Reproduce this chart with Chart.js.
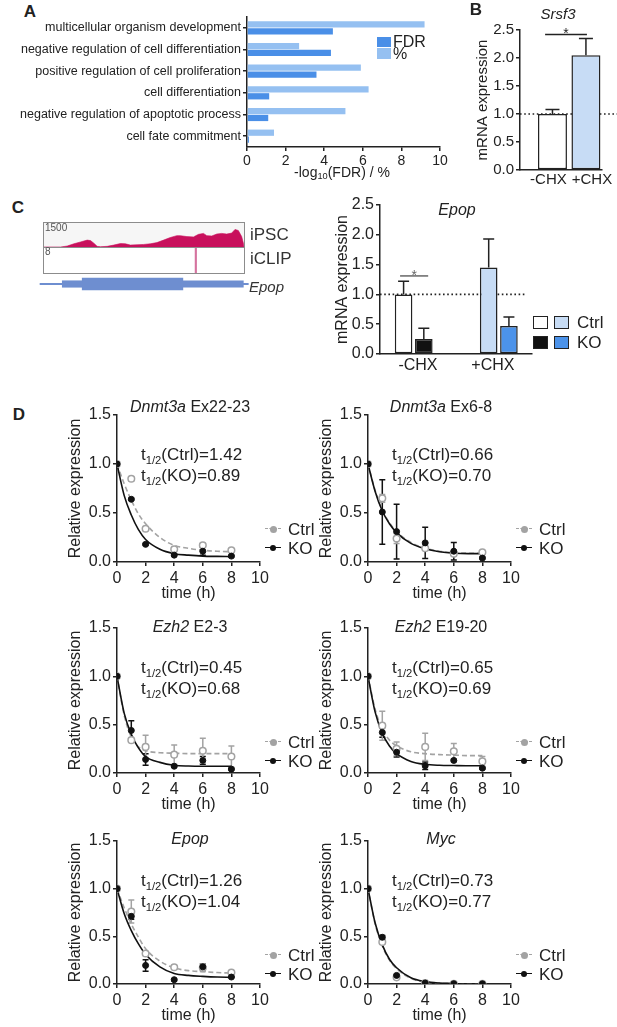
<!DOCTYPE html>
<html>
<head>
<meta charset="utf-8">
<title>Epop figure</title>
<script src="https://cdn.jsdelivr.net/npm/chart.js@4.4.1/dist/chart.umd.min.js"></script>
<style>
  html, body { margin: 0; padding: 0; background: #fff; }
  body { position: relative; width: 617px; height: 1027px; overflow: hidden; font-family: "Liberation Sans", Arial, sans-serif; color: #222; }
  canvas { position: absolute; }
  .lbl { position: absolute; white-space: nowrap; line-height: 1; }
  .sub { font-size: 0.66em; vertical-align: -0.3em; }
  .box { position: absolute; box-sizing: border-box; }
</style>
</head>
<body>
<script>
Chart.defaults.font.family = '"Liberation Sans", Arial, sans-serif';
Chart.defaults.color = '#222';

// A: GO terms
const goTerms = ['multicellular organism development', 'negative regulation of cell differentiation',
  'positive regulation of cell proliferation', 'cell differentiation',
  'negative regulation of apoptotic process', 'cell fate commitment'];
const goPercent = [9.2, 2.7, 5.9, 6.3, 5.1, 1.4];
const goFdr = [4.45, 4.35, 3.6, 1.15, 1.1, 0.1];

// B: Srsf3 with cycloheximide
const chxGroups = ['-CHX', '+CHX'];
const srsf3Mean = [1.0, 2.05];
const srsf3Sem = [0.08, 0.30];

// C: Epop, Ctrl vs KO
const epopCtrl = [1.0, 1.45];
const epopCtrlSem = [0.22, 0.48];
const epopKo = [0.25, 0.47];
const epopKoSem = [0.18, 0.15];

// C: browser track (position along the locus, coverage)
const trackPos = [0, 50, 70, 90, 110, 130, 140, 150, 160, 170, 190, 210, 230, 245, 260, 280, 300, 320, 340,
  360, 380, 400, 410, 430, 450, 465, 480, 490, 505, 520, 535, 550, 565, 575, 585, 595, 600, 602];
const trackCov = [0, 0, 60, 200, 315, 430, 400, 240, 40, 20, 40, 120, 215, 200, 120, 140, 160, 200, 275,
  430, 590, 710, 710, 650, 630, 790, 850, 710, 690, 810, 850, 810, 870, 1100, 1030, 650, 250, 0];
const iclipPos = [457];
const iclipCount = [8];
const geneSpan = [-12, 615];
const utr5 = [55, 115];
const cds = [115, 418];
const utr3 = [418, 600];

// D: decay after transcription stop
const decayTimes = [0, 1, 2, 4, 6, 8];
const fitTimes = [0, 0.5, 1, 1.5, 2, 3, 4, 5, 6, 7, 8];
const geneNames = ['Dnmt3a', 'Dnmt3a', 'Ezh2', 'Ezh2', 'Epop', 'Myc'];
const amplicons = ['Ex22-23', 'Ex6-8', 'E2-3', 'E19-20', '', ''];
const halfLifeCtrl = ['1.42', '0.66', '0.45', '0.65', '1.26', '0.73'];
const halfLifeKo = ['0.89', '0.70', '0.68', '0.69', '1.04', '0.77'];
const ctrlMean = [
  [1, 0.85, 0.34, 0.13, 0.17, 0.12],
  [1, 0.65, 0.24, 0.14, 0.085, 0.10],
  [1, 0.34, 0.27, 0.19, 0.23, 0.17],
  [1, 0.49, 0.25, 0.27, 0.225, 0.12],
  [1, 0.76, 0.32, 0.175, 0.17, 0.12],
  [1, 0.44, 0.07, 0.01, 0.003, 0.002]
];
const ctrlSem = [
  [0, 0.02, 0.01, 0.01, 0.02, 0.01],
  [0, 0.04, 0.05, 0.02, 0.02, 0.01],
  [0, 0.02, 0.12, 0.10, 0.13, 0.11],
  [0, 0.15, 0.07, 0.14, 0.08, 0.05],
  [0, 0.12, 0.02, 0.02, 0.04, 0.01],
  [0, 0.02, 0.02, 0.005, 0, 0]
];
const koMean = [
  [1, 0.64, 0.18, 0.07, 0.11, 0.06],
  [1, 0.51, 0.31, 0.195, 0.11, 0.04],
  [1, 0.44, 0.14, 0.07, 0.13, 0.04],
  [1, 0.42, 0.215, 0.075, 0.13, 0.05],
  [1, 0.71, 0.195, 0.045, 0.18, 0.073],
  [1, 0.49, 0.09, 0.01, 0.003, 0.002]
];
const koSem = [
  [0, 0.01, 0.01, 0.01, 0.04, 0.01],
  [0, 0.33, 0.28, 0.16, 0.09, 0.01],
  [0, 0.10, 0.06, 0.01, 0.04, 0.01],
  [0, 0.05, 0.05, 0.04, 0.01, 0.01],
  [0, 0.03, 0.06, 0.01, 0.03, 0.005],
  [0, 0.02, 0.01, 0, 0, 0]
];
const ctrlFit = [
  [1, 0.80, 0.63, 0.49, 0.39, 0.25, 0.17, 0.14, 0.12, 0.11, 0.105],
  [1, 0.73, 0.53, 0.40, 0.31, 0.20, 0.14, 0.11, 0.095, 0.09, 0.09],
  [1, 0.60, 0.37, 0.27, 0.23, 0.21, 0.205, 0.2, 0.2, 0.2, 0.2],
  [1, 0.66, 0.45, 0.34, 0.28, 0.22, 0.20, 0.19, 0.185, 0.18, 0.18],
  [1, 0.80, 0.63, 0.49, 0.37, 0.24, 0.17, 0.14, 0.13, 0.12, 0.115],
  [1, 0.63, 0.40, 0.25, 0.16, 0.06, 0.02, 0.01, 0.005, 0, 0]
];
const koFit = [
  [1, 0.68, 0.48, 0.33, 0.23, 0.13, 0.085, 0.07, 0.06, 0.057, 0.055],
  [1, 0.72, 0.52, 0.39, 0.30, 0.19, 0.135, 0.105, 0.09, 0.085, 0.085],
  [1, 0.62, 0.40, 0.26, 0.17, 0.11, 0.08, 0.072, 0.07, 0.07, 0.07],
  [1, 0.63, 0.41, 0.28, 0.20, 0.12, 0.09, 0.08, 0.077, 0.075, 0.075],
  [1, 0.74, 0.56, 0.42, 0.31, 0.18, 0.11, 0.09, 0.08, 0.073, 0.07],
  [1, 0.64, 0.41, 0.26, 0.17, 0.065, 0.025, 0.01, 0.005, 0, 0]
];

const INK = '#222';
const FDR_BLUE = '#4a8fe7';
const PCT_BLUE = '#95c0f1';
const PALE_BLUE = '#c7dcf5';
const KO_BLUE = '#4c93ea';
const GREY = '#a3a3a3';
const TRACK = '#c8105c';
const GENE = '#6e8ed0';

function mount(plot, m) {
  const cv = document.createElement('canvas');
  const w = plot.r - plot.l + m.l + m.r;
  const h = plot.b - plot.t + m.t + m.b;
  cv.width = w;
  cv.height = h;
  cv.style.left = (plot.l - m.l) + 'px';
  cv.style.top = (plot.t - m.t) + 'px';
  cv.style.width = w + 'px';
  cv.style.height = h + 'px';
  document.body.appendChild(cv);
  return cv;
}

function label(html, x, y, size, align, extra) {
  const d = document.createElement('div');
  d.className = 'lbl';
  d.innerHTML = html;
  d.style.left = x + 'px';
  d.style.top = y + 'px';
  d.style.fontSize = size + 'px';
  const ax = align === 'left' ? '0' : (align === 'right' ? '-100%' : '-50%');
  d.style.transform = `translate(${ax}, -50%)`;
  if (extra) d.style.cssText += extra;
  document.body.appendChild(d);
}

function box(x, y, w, h, css) {
  const d = document.createElement('div');
  d.className = 'box';
  d.style.cssText += `left:${x}px;top:${y}px;width:${w}px;height:${h}px;${css}`;
  document.body.appendChild(d);
}

function baseOptions(m) {
  return {
    responsive: false, animation: false, devicePixelRatio: 1, events: [],
    layout: { padding: { top: m.t, right: m.r, bottom: 0, left: 0 } },
    plugins: { legend: { display: false }, tooltip: { enabled: false } }
  };
}

function axis(o) {
  const ticks = { color: INK, font: { size: o.size }, padding: o.pad ?? 2, autoSkip: false, maxRotation: 0 };
  if (o.step) ticks.stepSize = o.step;
  if (o.fmt) ticks.callback = o.fmt;
  const a = {
    type: o.type || 'linear',
    offset: o.offset || false,
    border: { color: INK, width: 1.5 },
    grid: { display: true, drawOnChartArea: false, drawTicks: o.marks !== false, color: INK, lineWidth: 1.5, tickLength: 4, offset: false },
    ticks,
    title: o.title ? { display: true, text: o.title, color: INK, font: { size: o.titleSize || o.size, weight: 'normal' }, padding: 0 } : { display: false },
    afterFit: o.fit
  };
  if (o.min !== undefined) { a.min = o.min; a.max = o.max; }
  if (o.ticksAt) a.afterBuildTicks = s => { s.ticks = o.ticksAt.map(v => ({ value: v })); };
  return a;
}

// error bars drawn from each dataset's own errors through the y scale
function drawErrorBars(chart) {
  const ctx = chart.ctx, y = chart.scales.y;
  chart.data.datasets.forEach((ds, di) => {
    if (!ds.errors) return;
    chart.getDatasetMeta(di).data.forEach((el, i) => {
      const err = ds.errors[i];
      if (!err) return;
      const raw = ds.data[i];
      const v = typeof raw === 'object' ? raw.y : raw;
      const top = y.getPixelForValue(v + err);
      const bottom = y.getPixelForValue(ds.errorUp ? v : Math.max(0, v - err));
      const half = (ds.capWidth || 6) / 2;
      ctx.save();
      ctx.strokeStyle = ds.errorColor || INK;
      ctx.lineWidth = 1.5;
      ctx.beginPath();
      ctx.moveTo(el.x, bottom); ctx.lineTo(el.x, top);
      ctx.moveTo(el.x - half, top); ctx.lineTo(el.x + half, top);
      if (!ds.errorUp) { ctx.moveTo(el.x - half, bottom); ctx.lineTo(el.x + half, bottom); }
      ctx.stroke();
      ctx.restore();
    });
  });
}
const errorBars = {
  id: 'errorBars',
  beforeDatasetsDraw(chart, args, opts) { if (opts.under) drawErrorBars(chart); },
  afterDatasetsDraw(chart, args, opts) { if (!opts.under) drawErrorBars(chart); }
};

const refLines = {
  id: 'refLines',
  beforeDatasetsDraw(chart, args, opts) {
    const { ctx, scales: { x, y } } = chart;
    (opts.dotted || []).forEach(d => {
      const py = y.getPixelForValue(d.y);
      ctx.save();
      ctx.strokeStyle = INK; ctx.lineWidth = 1.6; ctx.setLineDash([1.6, 2.6]);
      ctx.beginPath();
      ctx.moveTo(x.getPixelForValue(d.x0), py); ctx.lineTo(x.getPixelForValue(d.x1), py);
      ctx.stroke();
      ctx.restore();
    });
  },
  afterDraw(chart, args, opts) {
    const { ctx, scales: { x, y } } = chart;
    (opts.sig || []).forEach(s => {
      const py = y.getPixelForValue(s.y);
      const x0 = x.getPixelForValue(s.x0), x1 = x.getPixelForValue(s.x1);
      ctx.save();
      ctx.strokeStyle = s.color; ctx.fillStyle = s.color; ctx.lineWidth = 1.5;
      ctx.beginPath(); ctx.moveTo(x0, py); ctx.lineTo(x1, py); ctx.stroke();
      ctx.font = '14px "Liberation Sans", Arial, sans-serif';
      ctx.textAlign = 'center'; ctx.textBaseline = 'alphabetic';
      ctx.fillText('*', (x0 + x1) / 2, py + 4);
      ctx.restore();
    });
  }
};

// ---------------- A ----------------
label('<b>A</b>', 30, 11, 17);
const mA = { l: 247, t: 10, r: 14, b: 22 };
new Chart(mount({ l: 247, t: 17, r: 440, b: 147 }, mA), {
  type: 'bar',
  data: {
    labels: goTerms,
    datasets: [
      { label: '%', data: goPercent, backgroundColor: PCT_BLUE, categoryPercentage: 0.64, barPercentage: 0.9 },
      { label: 'FDR', data: goFdr, backgroundColor: FDR_BLUE, categoryPercentage: 0.64, barPercentage: 0.9 }
    ]
  },
  options: Object.assign(baseOptions(mA), {
    indexAxis: 'y',
    scales: {
      x: axis({ min: 0, max: 10, step: 2, size: 14, fit: s => { s.height = mA.b; } }),
      y: axis({ type: 'category', offset: true, size: 12.5, fmt: v => goTerms[v], fit: s => { s.width = mA.l; } })
    }
  })
});
label('-log<span class="sub">10</span>(FDR) / %', 342, 173, 14);
box(377, 37, 14, 10, `background:${FDR_BLUE}`);
box(377, 48, 14, 11, `background:${PCT_BLUE}`);
label('FDR', 393, 42, 16, 'left');
label('%', 393, 54, 16, 'left');

// ---------------- B ----------------
label('<b>B</b>', 476, 9, 17);
label('<i>Srsf3</i>', 558, 13, 15);
const mB = { l: 46, t: 12, r: 15, b: 20 };
new Chart(mount({ l: 520, t: 30, r: 602, b: 170 }, mB), {
  type: 'bar',
  data: {
    datasets: [{
      data: srsf3Mean.map((v, i) => ({ x: i + 1, y: v })),
      backgroundColor: ['#fff', PALE_BLUE], borderColor: INK, borderWidth: 1.5, borderSkipped: false,
      categoryPercentage: 1, barPercentage: 0.866,
      errors: srsf3Sem, errorUp: true, capWidth: 14
    }]
  },
  options: Object.assign(baseOptions(mB), {
    scales: {
      x: axis({ min: 0.03, max: 2.48, size: 15, marks: false, pad: 1, ticksAt: [0.88, 2.18], fmt: (v, i) => chxGroups[i], fit: s => { s.height = mB.b; } }),
      y: axis({ min: 0, max: 2.5, step: 0.5, size: 15, fmt: v => v.toFixed(1), title: 'mRNA expression', fit: s => { s.width = mB.l; } })
    },
    plugins: {
      legend: { display: false }, tooltip: { enabled: false },
      errorBars: { under: false },
      refLines: { dotted: [{ y: 1, x0: 0.03, x1: 2.93 }], sig: [{ x0: 0.78, x1: 2.03, y: 2.42, color: INK }] }
    }
  }),
  plugins: [errorBars, refLines]
});

// ---------------- C ----------------
label('<b>C</b>', 18, 207, 17);
box(43, 222, 202, 52, 'border:1px solid #8c8c8c');
box(44, 223, 200, 24, 'background:#f6f6f6');
box(43, 247, 202, 1, 'background:#8c8c8c');
const track = document.createElement('canvas');
track.width = 200; track.height = 24;
track.style.cssText = 'left:44px;top:223px;width:200px;height:24px';
document.body.appendChild(track);
new Chart(track, {
  type: 'line',
  data: { datasets: [{ data: trackPos.map((p, i) => ({ x: p, y: trackCov[i] })), fill: 'origin', backgroundColor: TRACK, borderColor: TRACK, borderWidth: 0.6, pointRadius: 0, tension: 0 }] },
  options: Object.assign(baseOptions({ t: 0, r: 0 }), {
    scales: { x: { type: 'linear', min: 0, max: 602, display: false }, y: { min: 0, max: 1500, display: false } }
  })
});
const clip = document.createElement('canvas');
clip.width = 200; clip.height = 25;
clip.style.cssText = 'left:44px;top:248px;width:200px;height:25px';
document.body.appendChild(clip);
new Chart(clip, {
  type: 'bar',
  data: { datasets: [{ data: iclipPos.map((p, i) => ({ x: p, y: iclipCount[i] })), backgroundColor: '#d5739f', barThickness: 1.5 }] },
  options: Object.assign(baseOptions({ t: 0, r: 0 }), {
    scales: { x: { type: 'linear', min: 0, max: 602, display: false, offset: false }, y: { min: 0, max: 8, display: false } }
  })
});
const gene = document.createElement('canvas');
gene.width = 220; gene.height = 16;
gene.style.cssText = 'left:36px;top:276px;width:220px;height:16px';
document.body.appendChild(gene);
new Chart(gene, {
  type: 'bar',
  data: {
    labels: ['Epop'],
    datasets: [
      { data: [geneSpan], barThickness: 1.5, backgroundColor: GENE, grouped: false, clip: false },
      { data: [utr5], barThickness: 6.5, backgroundColor: GENE, grouped: false, clip: false },
      { data: [cds], barThickness: 12, backgroundColor: GENE, grouped: false, clip: false },
      { data: [utr3], barThickness: 6.5, backgroundColor: GENE, grouped: false, clip: false }
    ]
  },
  options: {
    responsive: false, animation: false, devicePixelRatio: 1, events: [], indexAxis: 'y',
    layout: { padding: { left: 8, right: 12, top: 0, bottom: 0 } },
    plugins: { legend: { display: false }, tooltip: { enabled: false } },
    scales: { x: { type: 'linear', min: 0, max: 602, display: false }, y: { display: false } }
  }
});
label('1500', 45, 228, 10, 'left', 'color:#555');
label('8', 45, 252, 10, 'left', 'color:#555');
label('iPSC', 250, 234, 17, 'left', 'color:#333');
label('iCLIP', 250, 258, 17, 'left', 'color:#333');
label('<i>Epop</i>', 249, 286, 15, 'left', 'color:#333');

label('<i>Epop</i>', 457, 210, 16);
const mC = { l: 47, t: 12, r: 8, b: 22 };
const cBar = { borderColor: INK, borderWidth: 1.5, borderSkipped: false, categoryPercentage: 0.54, barPercentage: 0.87, errorUp: true, capWidth: 11 };
new Chart(mount({ l: 380, t: 205, r: 532, b: 354 }, mC), {
  type: 'bar',
  data: {
    datasets: [
      Object.assign({ data: epopCtrl.map((v, i) => ({ x: i + 1, y: v })), backgroundColor: ['#fff', PALE_BLUE], errors: epopCtrlSem }, cBar),
      Object.assign({ data: epopKo.map((v, i) => ({ x: i + 1, y: v })), backgroundColor: ['#111', KO_BLUE], errors: epopKoSem }, cBar)
    ]
  },
  options: Object.assign(baseOptions(mC), {
    scales: {
      x: axis({ min: 0.604, max: 2.39, size: 16, marks: false, pad: 2, ticksAt: [1.05, 1.93], fmt: (v, i) => chxGroups[i], fit: s => { s.height = mC.b; } }),
      y: axis({ min: 0, max: 2.5, step: 0.5, size: 16, fmt: v => v.toFixed(1), title: 'mRNA expression', fit: s => { s.width = mC.l; } })
    },
    plugins: {
      legend: { display: false }, tooltip: { enabled: false },
      errorBars: { under: false },
      refLines: { dotted: [{ y: 1, x0: 0.604, x1: 2.33 }], sig: [{ x0: 0.84, x1: 1.17, y: 1.31, color: '#666' }] }
    }
  }),
  plugins: [errorBars, refLines]
});
box(533, 316, 15, 13, 'border:1.5px solid #222;background:#fff');
box(554, 316, 15, 13, `border:1.5px solid #222;background:${PALE_BLUE}`);
box(533, 336, 15, 13, 'border:1.5px solid #222;background:#111');
box(554, 336, 15, 13, `border:1.5px solid #222;background:${KO_BLUE}`);
label('Ctrl', 577, 322, 17, 'left');
label('KO', 577, 342, 17, 'left');

// ---------------- D ----------------
label('<b>D</b>', 19, 414, 17);
const colLeft = [117, 368];
const rowTop = [415, 628, 841];
const rowBottom = [562, 773, 984];
const titleShift = [-8, -1, -2];
const mD = { l: 51, t: 12, r: 14, b: 41 };

geneNames.forEach((g, k) => {
  const col = k % 2, row = Math.floor(k / 2);
  const l = colLeft[col], t = rowTop[row];
  const plot = { l, t, r: l + 143, b: rowBottom[row] };
  new Chart(mount(plot, mD), {
    type: 'line',
    data: {
      datasets: [
        { data: decayTimes.map((x, i) => ({ x, y: koMean[k][i] })), showLine: false, pointRadius: 3, pointBackgroundColor: '#111', pointBorderColor: '#111', pointBorderWidth: 1, errors: koSem[k], errorColor: '#111', capWidth: 6 },
        { data: decayTimes.map((x, i) => ({ x, y: ctrlMean[k][i] })), showLine: false, pointRadius: 3.3, pointBackgroundColor: '#fff', pointBorderColor: GREY, pointBorderWidth: 1.5, errors: ctrlSem[k], errorColor: GREY, capWidth: 6 },
        { data: fitTimes.map((x, i) => ({ x, y: koFit[k][i] })), borderColor: '#111', borderWidth: 1.6, pointRadius: 0, cubicInterpolationMode: 'monotone' },
        { data: fitTimes.map((x, i) => ({ x, y: ctrlFit[k][i] })), borderColor: GREY, borderWidth: 1.6, borderDash: [5, 3], pointRadius: 0, cubicInterpolationMode: 'monotone' }
      ]
    },
    options: Object.assign(baseOptions(mD), {
      scales: {
        x: axis({ min: 0, max: 10, step: 2, size: 16, pad: 3, title: 'time (h)', fit: s => { s.height = mD.b; } }),
        y: axis({ min: 0, max: 1.5, step: 0.5, size: 16, fmt: v => v.toFixed(1), title: 'Relative expression', fit: s => { s.width = mD.l; } })
      },
      plugins: { legend: { display: false }, tooltip: { enabled: false }, errorBars: { under: true } }
    }),
    plugins: [errorBars]
  });
  const name = `<i>${g}</i>` + (amplicons[k] ? ' ' + amplicons[k] : '');
  label(name, l + 73, t + titleShift[row], 16);
  label(`t<span class="sub">1/2</span>(Ctrl)=${halfLifeCtrl[k]}`, l + 24, t + 41, 17, 'left');
  label(`t<span class="sub">1/2</span>(KO)=${halfLifeKo[k]}`, l + 24, t + 62, 17, 'left');
  // legend
  const lx = l + 148;
  box(lx, t + 113, 16, 2, `border-top:1.6px dashed ${GREY}`);
  box(lx + 4.5, t + 110.5, 7, 7, `border-radius:50%;background:${GREY}`);
  box(lx, t + 132, 16, 2, 'border-top:1.6px solid #111');
  box(lx + 5, t + 130, 6, 6, 'border-radius:50%;background:#111');
  label('Ctrl', l + 171, t + 114, 17, 'left');
  label('KO', l + 171, t + 133, 17, 'left');
});
</script>
</body>
</html>
